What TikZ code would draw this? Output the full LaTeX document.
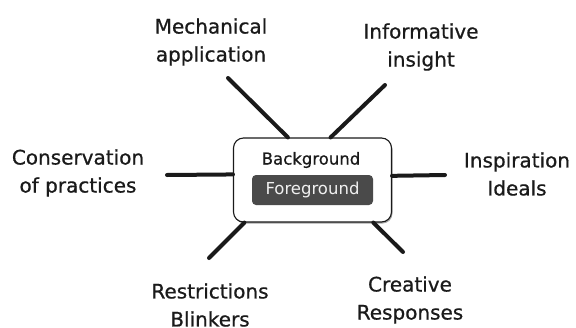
\documentclass[tikz,border=0pt]{standalone}
\usepackage{fontspec}
\setmainfont{DejaVu Sans}
\newfontfamily\lblfont{DejaVu Sans}[FakeBold=0.7]
\usetikzlibrary{shadows}
\definecolor{ink}{HTML}{1A1A1A}
\definecolor{fgfill}{HTML}{4A4A4A}
\begin{document}
\begin{tikzpicture}[x=1pt,y=-1pt,
  lab/.style={align=center,text=ink,font=\lblfont\fontsize{20}{28}\selectfont,inner sep=0pt},
  spoke/.style={line width=4pt,line cap=round,draw=ink},
  hub/.style={draw=ink,line width=1.1pt,rounded corners=10pt,fill=white,minimum width=158pt,minimum height=84pt,inner sep=0pt,
    drop shadow={shadow xshift=1pt,shadow yshift=-1.5pt,fill=gray!70,opacity=1}},
  fgbox/.style={fill=fgfill,rounded corners=4pt,minimum width=121pt,minimum height=30pt,inner sep=0pt,text=white!94!black,font=\fontsize{16.5}{20}\selectfont},
  bgtext/.style={text=ink,font=\lblfont\fontsize{16.5}{20}\selectfont,inner sep=0pt}]
\useasboundingbox (0,0) rectangle (576,327);
\node[hub] (bg) at (312.5,180) {};
\node[bgtext] (bgt) at (311,160) {Background};
\node[fgbox] (fg) at (312.5,190) {Foreground};
\node[lab] (mech) at (211,42) {Mechanical\\application};
\node[lab] (info) at (421,47) {Informative\\insight};
\node[lab] (cons) at (78,173) {Conservation\\of practices};
\node[lab] (insp) at (517,174) {Inspiration\\Ideals};
\node[lab] (restr) at (210,305) {Restrictions\\Blinkers};
\node[lab] (creat) at (410,300) {Creative\\Responses};
\coordinate (pm) at (228,78);
\coordinate (pi) at (385,85);
\coordinate (pc) at (167,175);
\coordinate (ps) at (445,175);
\coordinate (pr) at (209,258);
\coordinate (pcr) at (403,252);
\draw[spoke] (pm) -- (bg.120);
\draw[spoke] (pi) -- (bg.67);
\draw[spoke] (pc) -- (bg.176.4);
\draw[spoke] (ps) -- (bg.3.6);
\draw[spoke] (pr) -- (bg.212.7);
\draw[spoke] (pcr) -- (bg.325.2);
\end{tikzpicture}
\end{document}
